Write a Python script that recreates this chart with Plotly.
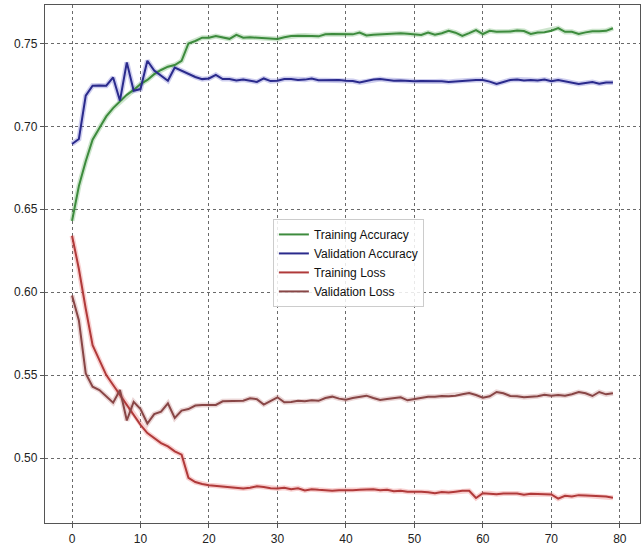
import plotly.graph_objects as go

epochs = list(range(80))

train_acc = [0.643, 0.664, 0.679, 0.692, 0.699, 0.706, 0.711, 0.715, 0.719, 0.722,
             0.7255, 0.728, 0.7315, 0.734, 0.736, 0.737, 0.7395, 0.750, 0.7515, 0.7535,
             0.7535, 0.7545, 0.7535, 0.7528, 0.7552, 0.7535, 0.7537, 0.7535, 0.7533, 0.753,
             0.7527, 0.7538, 0.7545, 0.7547, 0.7548, 0.7545, 0.7543, 0.7556, 0.7557, 0.7556,
             0.7558, 0.7555, 0.7566, 0.7548, 0.7553, 0.7556, 0.7558, 0.7562, 0.7561, 0.7559,
             0.7553, 0.7551, 0.7566, 0.7553, 0.7562, 0.7576, 0.7565, 0.7546, 0.7562, 0.758,
             0.7557, 0.7576, 0.757, 0.757, 0.7572, 0.7578, 0.7575, 0.7557, 0.7566, 0.7568,
             0.7577, 0.7593, 0.757, 0.7571, 0.7557, 0.7567, 0.7573, 0.7574, 0.7576, 0.7592]

val_acc = [0.6894, 0.6924, 0.7185, 0.7245, 0.7247, 0.7245, 0.7295, 0.7155, 0.7386, 0.7215,
           0.7225, 0.7396, 0.7336, 0.7305, 0.7275, 0.7355, 0.7335, 0.7315, 0.7298, 0.7285,
           0.7289, 0.7311, 0.7285, 0.7285, 0.7277, 0.7283, 0.7275, 0.7268, 0.7289, 0.7273,
           0.7275, 0.7285, 0.7285, 0.728, 0.7282, 0.7289, 0.7278, 0.7278, 0.7277, 0.728,
           0.7275, 0.7274, 0.7265, 0.7273, 0.7283, 0.7285, 0.7279, 0.7275, 0.7277, 0.7274,
           0.7272, 0.7274, 0.7274, 0.7271, 0.7272, 0.7268, 0.7272, 0.7272, 0.7276, 0.7279,
           0.728, 0.727, 0.7256, 0.7268, 0.728, 0.7282, 0.7277, 0.7279, 0.7277, 0.7282,
           0.7272, 0.728, 0.7272, 0.7265, 0.7256, 0.7262, 0.7268, 0.7257, 0.7265, 0.7264]

train_loss = [0.634, 0.614, 0.590, 0.568, 0.559, 0.550, 0.544, 0.538, 0.532, 0.526,
              0.520, 0.515, 0.512, 0.509, 0.507, 0.504, 0.502, 0.488, 0.4855, 0.4843,
              0.4836, 0.4832, 0.4828, 0.4825, 0.482, 0.4816, 0.482, 0.4829, 0.4825, 0.4818,
              0.4816, 0.482, 0.4812, 0.4818, 0.4804, 0.4812, 0.4808, 0.4805, 0.4802, 0.4806,
              0.4805, 0.4806, 0.4808, 0.481, 0.4812, 0.4806, 0.4808, 0.4799, 0.4802, 0.4797,
              0.4798, 0.4796, 0.4793, 0.4788, 0.4795, 0.4792, 0.4797, 0.4802, 0.4802, 0.4759,
              0.4788, 0.4787, 0.4782, 0.4786, 0.4788, 0.4786, 0.4778, 0.4784, 0.4783, 0.4781,
              0.478, 0.4755, 0.4772, 0.4768, 0.4776, 0.4774, 0.4772, 0.4771, 0.4768, 0.476]

val_loss = [0.598, 0.583, 0.551, 0.543, 0.541, 0.537, 0.5334, 0.541, 0.5226, 0.5339,
            0.5295, 0.5208, 0.5265, 0.528, 0.533, 0.5241, 0.5286, 0.5295, 0.5316, 0.532,
            0.5322, 0.532, 0.5342, 0.5342, 0.5342, 0.5345, 0.536, 0.5355, 0.5322, 0.5345,
            0.5366, 0.5336, 0.5338, 0.5345, 0.5342, 0.5348, 0.5345, 0.5362, 0.537, 0.5358,
            0.5352, 0.5362, 0.5368, 0.5376, 0.5362, 0.535, 0.5356, 0.5362, 0.5366, 0.5348,
            0.5356, 0.5362, 0.537, 0.537, 0.5374, 0.5372, 0.5376, 0.5385, 0.5392, 0.538,
            0.5364, 0.5372, 0.5398, 0.539, 0.5374, 0.5372, 0.5366, 0.537, 0.5372, 0.5382,
            0.5376, 0.538, 0.5376, 0.5385, 0.5398, 0.539, 0.5374, 0.5398, 0.5384, 0.539]

x_ticks = [0, 10, 20, 30, 40, 50, 60, 70, 80]
y_ticks = [0.50, 0.55, 0.60, 0.65, 0.70, 0.75]

series = [
    ("Training Accuracy", train_acc, "#3d8b3d", "rgba(90,170,90,0.30)"),
    ("Validation Accuracy", val_acc, "#2a2a8c", "rgba(90,90,200,0.30)"),
    ("Training Loss", train_loss, "#b03a3a", "rgba(235,120,120,0.35)"),
    ("Validation Loss", val_loss, "#884646", "rgba(190,120,120,0.30)"),
]

fig = go.Figure()
for name, vals, col, halo in series:
    fig.add_trace(go.Scatter(x=epochs, y=vals, mode="lines", showlegend=False,
                             hoverinfo="skip", line=dict(color=halo, width=5)))
for name, vals, col, halo in series:
    fig.add_trace(go.Scatter(x=epochs, y=vals, mode="lines", name=name,
                             line=dict(color=col, width=2)))

axis_common = dict(showline=True, linecolor="#555555", linewidth=1.3, mirror=True,
                   showgrid=True, gridcolor="#6a6a6a", griddash="dot", gridwidth=0.7,
                   ticks="outside", ticklen=4, tickcolor="#555555", zeroline=False,
                   tickfont=dict(family="Liberation Sans, Arial", size=12, color="#222222"))

fig.update_xaxes(range=[-3.95, 82.95], tickvals=x_ticks, **axis_common)
fig.update_yaxes(range=[0.4608, 0.7732], tickvals=y_ticks, tickformat=".2f", **axis_common)

fig.update_layout(
    width=641, height=547,
    margin=dict(l=45, r=1, t=5, b=24),
    plot_bgcolor="white", paper_bgcolor="white",
    legend=dict(x=0.383, y=0.587, xanchor="left", yanchor="top",
                bgcolor="rgba(255,255,255,0.85)", bordercolor="#cccccc", borderwidth=1,
                font=dict(family="Liberation Sans, Arial", size=12, color="#111111"),
                itemwidth=30, tracegroupgap=0),
)

fig.write_html("out.html")
